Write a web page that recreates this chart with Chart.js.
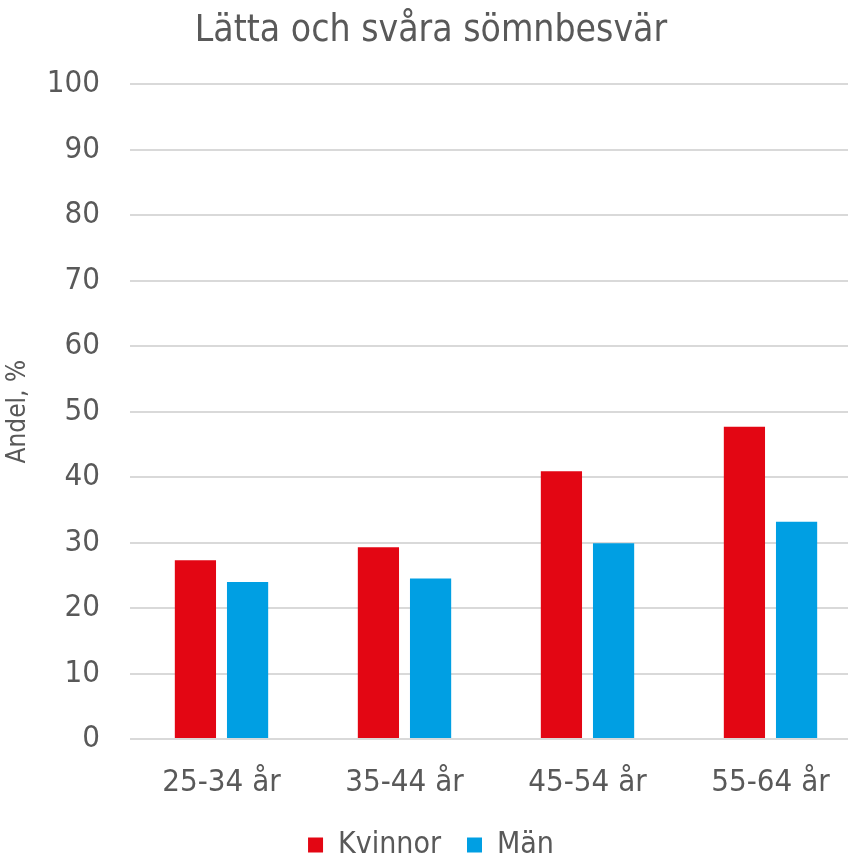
<!DOCTYPE html>
<html>
<head>
<meta charset="utf-8">
<script src="https://cdn.jsdelivr.net/npm/chart.js@4/dist/chart.umd.min.js"></script>
<style>
  html, body { margin: 0; padding: 0; background: #fff; overflow: hidden; }
  #wrap { width: 862px; height: 857px; }
</style>
</head>
<body>
<div id="wrap"><canvas id="sleepChart"></canvas></div>
<script>
const categories = ["25-34 år", "35-44 år", "45-54 år", "55-64 år"];
const kvinnor = [27.3, 29.3, 40.9, 47.7];
const man = [24.0, 24.5, 29.9, 33.2];
const yTicks = [0, 10, 20, 30, 40, 50, 60, 70, 80, 90, 100];

const fontFamily = "'DejaVu Sans Condensed', 'DejaVu Sans', sans-serif";
const textColor = "#595959";

const ctx = document.getElementById("sleepChart").getContext("2d");
const chart = new Chart(ctx, {
  type: "bar",
  data: {
    labels: categories,
    datasets: [
      {
        label: "Kvinnor",
        data: kvinnor,
        backgroundColor: "#e30613",
        barPercentage: 0.79,
        categoryPercentage: 0.57,
      },
      {
        label: "Män",
        data: man,
        backgroundColor: "#009fe3",
        barPercentage: 0.79,
        categoryPercentage: 0.57,
      },
    ],
  },
  options: {
    responsive: true,
    maintainAspectRatio: false,
    animation: false,
    layout: { padding: { left: 0, right: 0, top: 0, bottom: -13 } },
    plugins: {
      title: {
        display: true,
        text: "Lätta och svåra sömnbesvär",
        color: textColor,
        font: { family: fontFamily, size: 37, weight: "normal" },
        padding: { top: 9, bottom: 31 },
      },
      legend: {
        position: "bottom",
        labels: {
          color: textColor,
          font: { family: fontFamily, size: 30 },
          boxWidth: 15,
          boxHeight: 15,
          padding: 26,
        },
      },
      tooltip: { enabled: false },
    },
    scales: {
      x: {
        grid: { display: false },
        border: { display: false },
        afterFit: (scale) => {
          scale.height = 65;
        },
        ticks: {
          color: textColor,
          font: { family: fontFamily, size: 31 },
          padding: 17,
        },
      },
      y: {
        min: 0,
        max: 100,
        afterBuildTicks: (scale) => {
          scale.ticks = yTicks.map(v => ({ value: v }));
        },
        afterFit: (scale) => {
          scale.width = 130;
        },
        grid: { color: "#d9d9d9", lineWidth: 2, drawTicks: false },
        border: { display: false },
        ticks: {
          color: textColor,
          font: { family: fontFamily, size: 31 },
          padding: 30,
        },
        title: {
          display: true,
          text: "Andel, %",
          color: textColor,
          font: { family: fontFamily, size: 26 },
          padding: { top: 3, bottom: 0 },
        },
      },
    },
  },
});
</script>
</body>
</html>
